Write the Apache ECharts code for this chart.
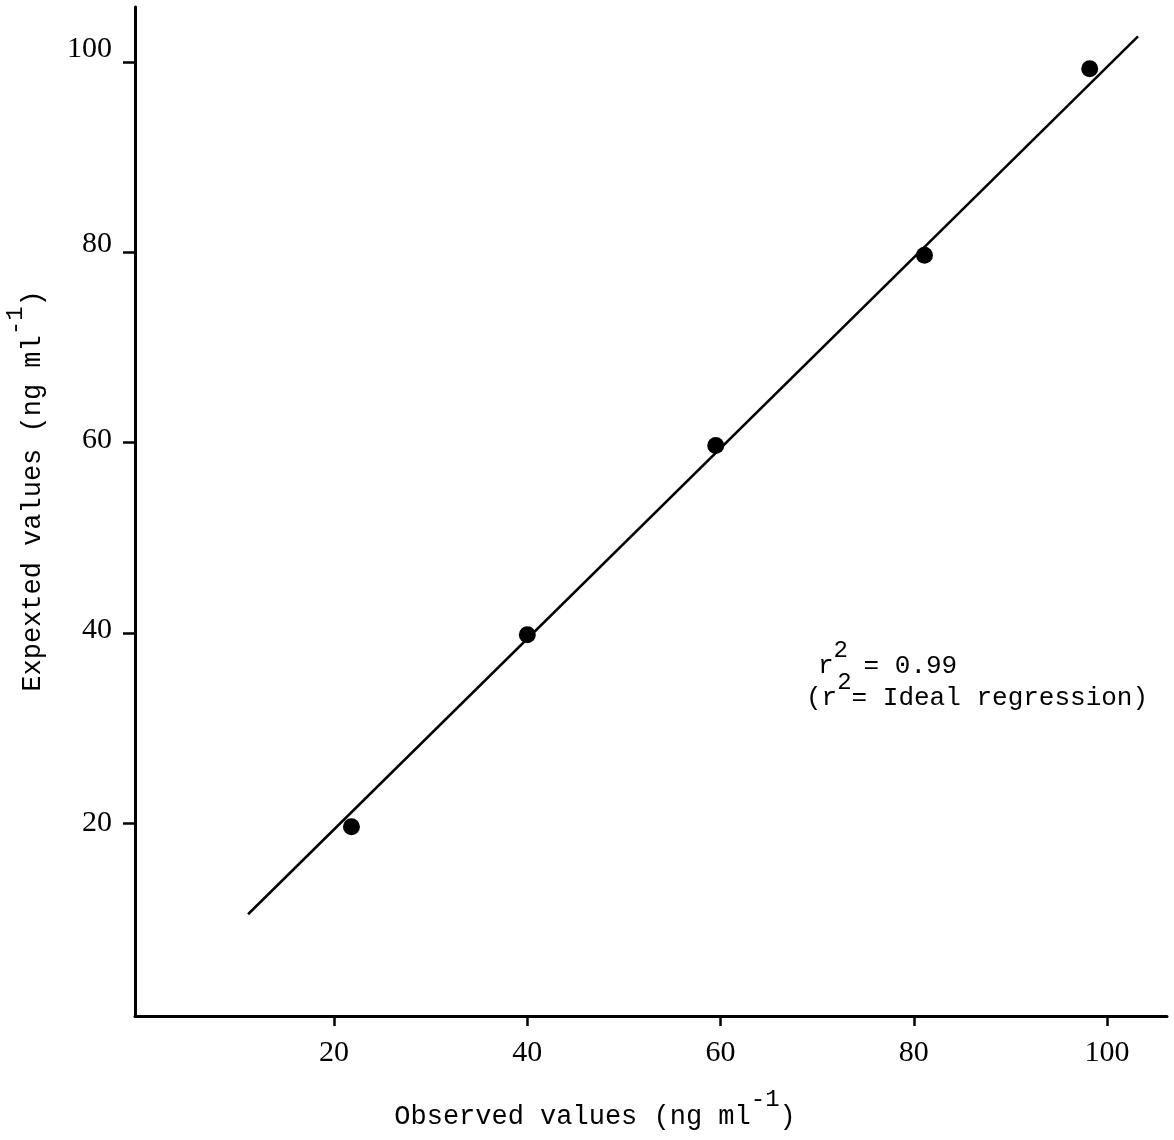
<!DOCTYPE html>
<html>
<head>
<meta charset="utf-8">
<script src="https://cdn.jsdelivr.net/npm/echarts@6/dist/echarts.min.js"></script>
<style>
  html, body { margin: 0; padding: 0; background: #fff; }
  #chart { width: 1174px; height: 1140px; }
</style>
</head>
<body>
<div id="chart"></div>
<script>
// Data
const observed = [21.8, 40.0, 59.5, 81.1, 98.2];
const expected = [19.6, 39.8, 59.7, 79.7, 99.3];
const fitX = [11.1, 103.2];
const fitY = [10.4, 102.7];
const xTicks = [20, 40, 60, 80, 100];
const yTicks = [20, 40, 60, 80, 100];
const xTitle = ['Observed values (ng ml', '-1', ')'];
const yTitle = ['Expexted values (ng ml', '-1', ')'];
const noteLine1 = ['r', '2', ' = 0.99'];
const noteLine2 = ['(r', '2', '= Ideal regression)'];

const mono = 'Liberation Mono';
const serif = 'Liberation Serif';
const ink = '#000';

const chart = echarts.init(document.getElementById('chart'));

function richFor(size, supSize, raise) {
  return {
    a: { fontFamily: mono, fontSize: size, color: ink, lineHeight: 30, verticalAlign: 'bottom' },
    s: { fontFamily: mono, fontSize: supSize, color: ink, lineHeight: 22, verticalAlign: 'bottom', padding: [0, 0, raise, 0] }
  };
}
function supText(parts) {
  return '{a|' + parts[0] + '}{s|' + parts[1] + '}{a|' + parts[2] + '}';
}

// per-label lift of the hand-lettered y tick labels
const yLabelRich = {
  y100: { fontFamily: serif, fontSize: 30, color: ink, padding: [0, 0, 26, 0] },
  y80:  { fontFamily: serif, fontSize: 30, color: ink, padding: [0, 0, 16, 0] },
  y60:  { fontFamily: serif, fontSize: 30, color: ink, padding: [0, 0, 4, 0] },
  y40:  { fontFamily: serif, fontSize: 30, color: ink, padding: [0, 0, 6, 0] },
  y20:  { fontFamily: serif, fontSize: 30, color: ink, padding: [0, 0, 0, 0] }
};

const option = {
  backgroundColor: '#fff',
  animation: false,
  grid: { left: 135, right: 7, top: 7, bottom: 124, outerBoundsMode: 'none', containLabel: false },
  xAxis: {
    type: 'value', min: -0.6, max: 106.2,
    axisLine: { show: true, onZero: false, lineStyle: { color: ink, width: 3 } },
    axisTick: { show: true, customValues: xTicks, length: 10, lineStyle: { color: ink, width: 2.5 } },
    axisLabel: { customValues: xTicks, fontFamily: serif, fontSize: 30, color: ink, margin: 22 },
    splitLine: { show: false }
  },
  yAxis: {
    type: 'value', min: -0.3, max: 105.8,
    axisLine: { show: true, onZero: false, lineStyle: { color: ink, width: 3 } },
    axisTick: { show: true, customValues: yTicks, length: 12, lineStyle: { color: ink, width: 2.5 } },
    axisLabel: { customValues: yTicks, fontFamily: serif, fontSize: 30, color: ink, margin: 23,
      formatter: v => '{y' + v + '|' + v + '}',
      rich: yLabelRich },
    splitLine: { show: false }
  },
  series: [
    {
      type: 'line',
      data: fitX.map((x, i) => [x, fitY[i]]),
      showSymbol: false,
      lineStyle: { color: ink, width: 2.5 },
      z: 2
    },
    {
      type: 'scatter',
      data: observed.map((x, i) => [x, expected[i]]),
      symbol: 'circle',
      symbolSize: 17,
      itemStyle: { color: '#000', opacity: 1 },
      z: 3
    }
  ],
  graphic: [
    {
      type: 'text', x: 595, y: 1115,
      style: { text: supText(xTitle), rich: richFor(27, 24, 18), align: 'center', verticalAlign: 'middle' }
    },
    {
      type: 'text', x: 31, y: 491, rotation: Math.PI / 2,
      style: { text: supText(yTitle), rich: richFor(27, 24, 18), align: 'center', verticalAlign: 'middle' }
    },
    {
      type: 'text', x: 818, y: 664,
      style: { text: supText(noteLine1), rich: richFor(26, 24, 16), align: 'left', verticalAlign: 'middle' }
    },
    {
      type: 'text', x: 806, y: 696,
      style: { text: supText(noteLine2), rich: richFor(26, 24, 16), align: 'left', verticalAlign: 'middle' }
    }
  ]
};
chart.setOption(option);
</script>
</body>
</html>
